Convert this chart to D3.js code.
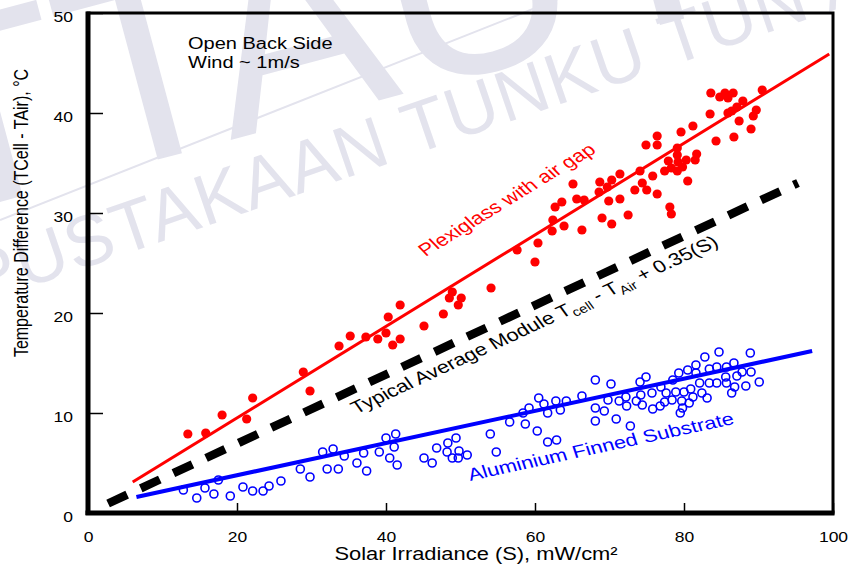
<!DOCTYPE html>
<html>
<head>
<meta charset="utf-8">
<script src="https://cdn.jsdelivr.net/npm/d3@7"></script>
<style>
  body { margin: 0; background: #fff; }
  svg { display: block; font-family: "Liberation Sans", Arial, sans-serif; }
</style>
</head>
<body>
<div id="chart"></div>
<script>
// Plexiglass with air gap (filled red dots): irradiance S, temperature difference
const plexiS = [13.4, 15.8, 18.0, 21.3, 22.1, 28.9, 29.8, 33.7, 35.2, 37.3, 38.9, 40.0, 40.3, 41.9, 40.9, 41.9,
  45.1, 47.7, 48.9, 48.5, 50.1, 49.7, 54.1, 57.6, 60.0, 60.4, 62.3, 62.4, 63.9, 62.7, 63.6, 65.1, 65.6, 66.6,
  66.3, 68.7, 68.6, 69.7, 70.3, 69.9, 69.0, 70.3, 71.4, 71.4, 72.5, 73.4, 74.1, 74.4, 75.0, 75.8, 76.4, 74.9,
  76.4, 76.4, 78.1, 78.3, 77.4, 77.9, 78.3, 79.1, 79.1, 79.2, 79.1, 79.8, 80.3, 80.5, 81.5, 81.7, 79.6, 81.2,
  83.5, 84.3, 83.6, 84.8, 85.5, 85.9, 86.6, 85.9, 86.4, 87.1, 86.7, 87.4, 87.9, 89.0, 89.3, 89.7, 90.5];
const plexiT = [7.9, 8.0, 9.8, 9.4, 11.5, 14.1, 12.2, 16.7, 17.7, 17.6, 17.4, 18.0, 19.6, 20.8, 16.8, 17.4,
  18.7, 19.9, 22.1, 21.5, 21.5, 20.8, 22.5, 26.3, 25.1, 27.0, 28.2, 29.3, 28.7, 30.6, 31.1, 32.9, 31.4, 31.3,
  28.3, 33.1, 32.1, 32.6, 33.3, 31.2, 29.5, 28.9, 33.9, 31.4, 29.8, 32.3, 34.2, 33.0, 32.3, 33.7, 31.9, 36.8,
  36.8, 37.7, 30.6, 29.9, 34.2, 35.2, 34.5, 36.5, 35.8, 35.1, 34.2, 34.6, 35.3, 33.2, 35.3, 35.9, 38.1, 38.7,
  39.9, 37.2, 42.0, 41.6, 42.0, 41.5, 42.0, 40.0, 40.2, 40.6, 37.6, 39.2, 41.2, 38.4, 39.7, 40.3, 42.3];

// Aluminium finned substrate (open blue circles)
const alumS = [12.8, 14.6, 15.7, 16.9, 17.5, 19.1, 20.8, 22.1, 23.5, 24.3, 25.9, 28.5, 29.8, 31.5, 32.9, 32.1,
  33.6, 34.4, 36.1, 37.0, 37.4, 39.1, 40.0, 41.3, 41.1, 40.5, 41.5, 45.1, 46.2, 46.8, 48.2, 48.3, 49.4, 49.8,
  48.9, 49.7, 50.9, 54.0, 54.8, 56.6, 58.7, 58.4, 59.2, 60.3, 60.5, 61.2, 61.7, 61.7, 62.9, 62.8, 63.4, 64.2,
  66.3, 68.1, 68.1, 68.1, 69.3, 69.8, 70.2, 70.9, 71.3, 72.3, 72.2, 72.8, 73.6, 74.1, 74.9, 74.2, 74.4, 75.7,
  75.8, 76.9, 76.8, 77.4, 77.6, 78.4, 78.5, 78.9, 79.3, 79.5, 79.7, 79.8, 80.0, 80.5, 80.7, 80.9, 81.2, 81.6,
  81.6, 82.1, 82.4, 82.8, 83.1, 83.4, 83.4, 84.4, 84.4, 84.7, 85.6, 85.7, 85.7, 86.4, 86.7, 86.8, 87.1, 87.8,
  88.3, 88.9, 89.0, 90.1];
const alumT = [2.3, 1.5, 2.5, 1.9, 3.3, 1.7, 2.6, 2.2, 2.2, 2.7, 3.2, 4.4, 3.6, 6.1, 6.4, 4.4,
  4.4, 5.7, 5.0, 6.0, 4.2, 6.1, 7.5, 7.9, 6.6, 5.5, 4.8, 5.5, 5.0, 6.5, 6.1, 7.0, 7.5, 6.2,
  5.5, 5.5, 5.8, 7.9, 6.1, 9.1, 8.9, 10.0, 10.5, 8.2, 11.5, 10.9, 10.0, 7.1, 7.3, 11.2, 10.3, 11.2,
  11.7, 13.3, 10.5, 9.2, 10.2, 11.3, 12.9, 9.4, 11.2, 10.7, 11.6, 8.7, 11.2, 13.1, 13.6, 11.8, 10.8, 12.0,
  10.4, 12.6, 10.7, 11.1, 12.0, 11.3, 13.3, 12.1, 14.0, 10.0, 11.2, 10.5, 12.1, 14.3, 11.0, 12.4, 11.6, 14.8,
  14.0, 13.0, 12.0, 15.6, 11.5, 14.4, 13.0, 14.6, 13.0, 16.1, 13.6, 14.6, 13.0, 12.0, 15.0, 12.6, 13.7, 14.1,
  12.7, 16.0, 14.1, 13.1];

// fitted lines, [S, T] at both ends
const plexiLine = [[6.0, 3.1], [99.5, 45.9]];
const typicalLine = [[2.7, 0.95], [95.3, 33.0]];
const alumLine = [[6.5, 1.6], [97.2, 16.2]];

const xTicks = [0, 20, 40, 60, 80, 100];
const yTicks = [0, 10, 20, 30, 40, 50];

const width = 856, height = 570;
const margin = {top: 13, right: 23, bottom: 57, left: 88};
const w = width - margin.left - margin.right;
const h = height - margin.top - margin.bottom;
const sx = 1.25; // the figure is stretched sideways, text too

const svg = d3.select("#chart").append("svg")
  .attr("width", width)
  .attr("height", height);

svg.append("rect").attr("width", width).attr("height", height).attr("fill", "#fff");

// faint library watermark behind everything
const wmColor = "#e3e3ed";
const wm = svg.append("g").attr("fill", wmColor);
wm.append("text")
  .attr("transform", "translate(-243,267) rotate(-15)")
  .attr("font-size", 270)
  .text("PTTAUTHM");
wm.append("text")
  .attr("transform", "translate(-165,354) rotate(-19)")
  .attr("font-size", 72)
  .attr("letter-spacing", 1)
  .text("PERPUSTAKAAN TUNKU TUN AMINAH");
wm.append("line")
  .attr("x1", 0).attr("y1", 220).attr("x2", 856).attr("y2", -119)
  .attr("stroke", wmColor).attr("stroke-width", 2);

const g = svg.append("g")
  .attr("transform", `translate(${margin.left}, ${margin.top})`);

const x = d3.scaleLinear().domain([0, 100]).range([0, w]);
const y = d3.scaleLinear().domain([0, 50]).range([h, 0]);

// widen a horizontal text the way the picture is widened
function widen(sel) {
  sel.each(function() {
    const len = this.getComputedTextLength();
    d3.select(this).attr("textLength", len * sx).attr("lengthAdjust", "spacingAndGlyphs");
  });
}

// axes, ticks point inwards
const xAxis = d3.axisBottom(x).tickValues(xTicks).tickSize(-10).tickPadding(19).tickFormat(d3.format("d"));
const yAxis = d3.axisLeft(y).tickValues(yTicks).tickSize(-15).tickPadding(15).tickFormat(d3.format("d"));

const gx = g.append("g")
  .attr("transform", `translate(0, ${h})`)
  .call(xAxis)
  .call(a => a.select(".domain").remove())
  .attr("font-family", null)
  .attr("font-size", 14);
gx.selectAll("line").attr("stroke-width", 1.5);
gx.selectAll("text").call(widen);

const gy = g.append("g")
  .call(yAxis)
  .call(a => a.select(".domain").remove())
  .attr("font-family", null)
  .attr("font-size", 14);
gy.selectAll("line").attr("stroke-width", 1.5);
gy.selectAll("text").attr("dy", "0.62em").call(widen);

// frame
g.append("rect")
  .attr("width", w).attr("height", h)
  .attr("fill", "none").attr("stroke", "#000").attr("stroke-width", 3);
g.append("line").attr("x1", 0).attr("x2", 0).attr("y1", -1.5).attr("y2", h + 2)
  .attr("stroke", "#000").attr("stroke-width", 5);
g.append("line").attr("x1", -2.5).attr("x2", w + 1.5).attr("y1", h).attr("y2", h)
  .attr("stroke", "#000").attr("stroke-width", 5);

// axis titles
svg.append("text")
  .attr("x", 476).attr("y", 560)
  .attr("text-anchor", "middle")
  .attr("font-size", 17.5)
  .text("Solar Irradiance (S), mW/cm²")
  .call(widen);

svg.append("text")
  .attr("transform", `translate(28, 213) scale(${sx},1) rotate(-90)`)
  .attr("text-anchor", "middle")
  .attr("font-size", 16)
  .text("Temperature Difference (TCell - TAir), °C");

// conditions note
const note = g.append("text").attr("font-size", 16);
note.append("tspan").attr("x", 100).attr("y", 36).text("Open Back Side");
note.append("tspan").attr("x", 100).attr("y", 55).text("Wind ~ 1m/s");
note.selectAll("tspan").call(widen);

// data
const line = d3.line().x(d => x(d[0])).y(d => y(d[1]));

g.append("path")
  .datum(typicalLine)
  .attr("d", line)
  .attr("stroke", "#000")
  .attr("stroke-width", 8.5)
  .attr("stroke-dasharray", "21,15")
  .attr("fill", "none");

g.append("g")
  .selectAll("circle")
  .data(alumS)
  .join("circle")
  .attr("cx", d => x(d))
  .attr("cy", (d, i) => y(alumT[i]))
  .attr("r", 4)
  .attr("fill", "none")
  .attr("stroke", "#0000ff")
  .attr("stroke-width", 1.6);

g.append("path")
  .datum(alumLine)
  .attr("d", line)
  .attr("stroke", "#0000ff")
  .attr("stroke-width", 4)
  .attr("fill", "none");

g.append("g")
  .selectAll("circle")
  .data(plexiS)
  .join("circle")
  .attr("cx", d => x(d))
  .attr("cy", (d, i) => y(plexiT[i]))
  .attr("r", 4.6)
  .attr("fill", "#ff0000");

g.append("path")
  .datum(plexiLine)
  .attr("d", line)
  .attr("stroke", "#ff0000")
  .attr("stroke-width", 3)
  .attr("fill", "none");

// labels written along the lines; start at S, shifted off the line by dy pixels
function lineLabel(seg, s, dy, color) {
  const [p0, p1] = seg;
  const t = p0[1] + (s - p0[0]) * (p1[1] - p0[1]) / (p1[0] - p0[0]);
  const slope = (y(p0[1]) - y(p1[1])) / (x(p1[0]) - x(p0[0]));
  const ang = Math.atan(slope * sx) * 180 / Math.PI;
  return g.append("text")
    .attr("transform", `translate(${x(s)}, ${y(t) + dy}) scale(${sx},1) rotate(${-ang})`)
    .attr("font-size", 17.5)
    .attr("fill", color);
}

lineLabel(plexiLine, 45.3, -45, "#ff0000").text("Plexiglass with air gap");
lineLabel(alumLine, 51.3, 56, "#0000ff").text("Aluminium Finned Substrate");

const typ = lineLabel(typicalLine, 36.0, 26, "#000");
typ.append("tspan").text("Typical Average Module T");
typ.append("tspan").attr("font-size", 12).attr("dy", 4).text("cell");
typ.append("tspan").attr("dy", -4).text(" - T");
typ.append("tspan").attr("font-size", 12).attr("dy", 4).text("Air");
typ.append("tspan").attr("dy", -4).text(" + 0.35(S)");
</script>
</body>
</html>
